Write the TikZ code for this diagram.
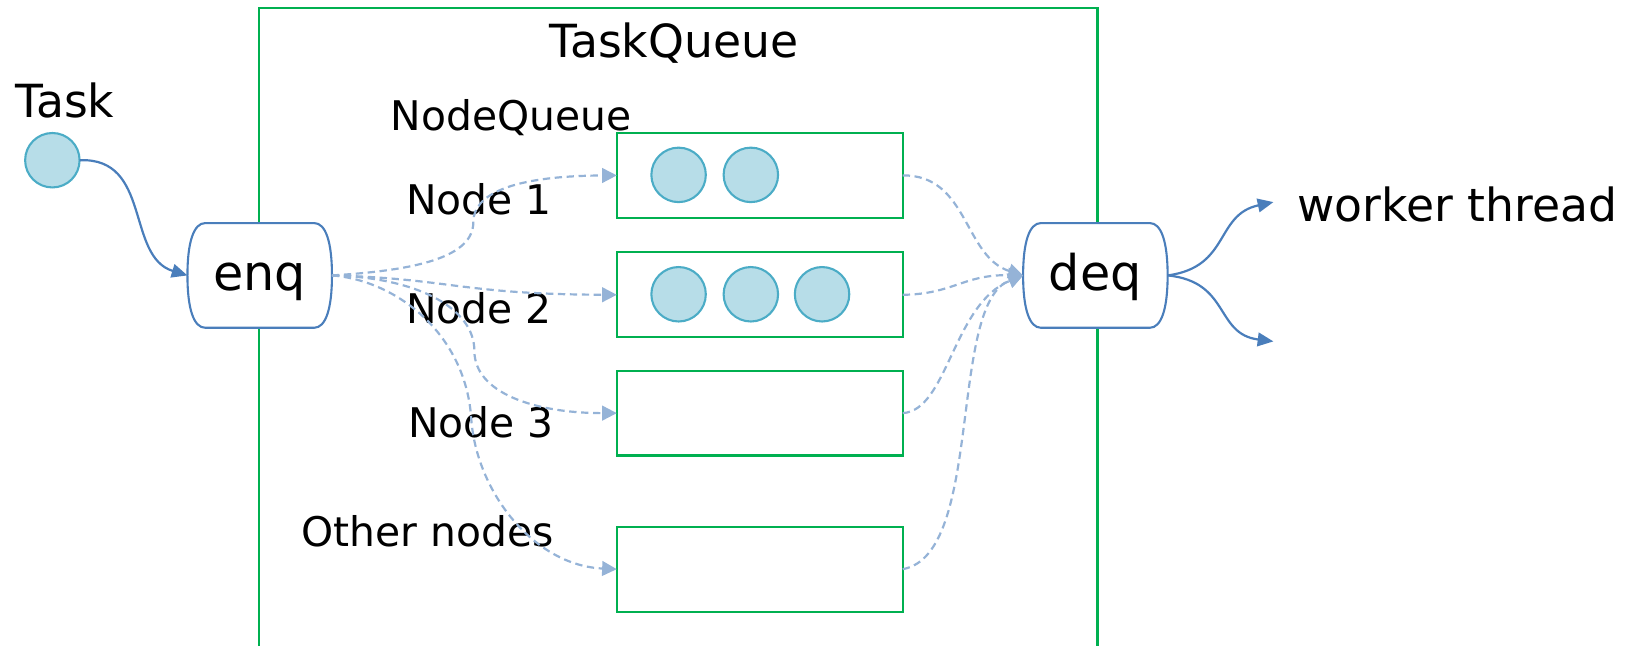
\documentclass[tikz,border=0pt]{standalone}
\usepackage{fontspec}
\setmainfont{DejaVu Sans}
\usetikzlibrary{arrows.meta}
\definecolor{qgreen}{HTML}{00B050}
\definecolor{qblue}{HTML}{4A7EBB}
\definecolor{qdash}{HTML}{95B3D7}
\definecolor{ballfill}{HTML}{B7DDE8}
\definecolor{ballline}{HTML}{4BACC6}
\newcommand{\setfs}[1]{\fontsize{#1}{#1}\selectfont}
\newcommand{\capsulepath}{%
  \path[capline] (-52,-50) -- (52,-50) .. controls (63,-50) and (69,-32) .. (69,0)
    .. controls (69,32) and (63,50) .. (52,50) -- (-52,50)
    .. controls (-63,50) and (-69,32) .. (-69,0)
    .. controls (-69,-32) and (-63,-50) .. cycle;}
\begin{document}
\begin{tikzpicture}[x=0.5pt,y=-0.5pt,
  frame/.style={draw=qgreen,line width=1pt,inner sep=0,outer sep=0,minimum width=400.5pt,minimum height=326pt},
  qbox/.style={draw=qgreen,line width=1pt,minimum width=136.5pt,minimum height=40.5pt,inner sep=0,outer sep=0},
  ball/.style={circle,draw=ballline,fill=ballfill,line width=1pt,minimum size=26pt,inner sep=0,outer sep=0},
  capsule/.style={inner sep=0,outer sep=0,minimum width=69pt,minimum height=50pt,font=\setfs{23.5},text height=14.2pt,text depth=0pt},
  capline/.style={draw=qblue,fill=white,line width=1pt},
  lbl/.style={anchor=base west,inner sep=0,outer sep=0,font=\setfs{21.8}},
  nlbl/.style={anchor=base west,inner sep=0,outer sep=0,font=\setfs{19.5}},
  flowline/.style={qdash,line width=1.05pt,dash pattern=on 3.5pt off 2.2pt,-{Triangle[length=7pt,width=7pt]}},
  bluearrow/.style={qblue,line width=1.05pt,-{Triangle[length=7.5pt,width=6.5pt]}}]
\useasboundingbox (0,0) rectangle (1568,616);
% outer TaskQueue frame
\node[frame] (tq) at (647.5,334) {};
\node[lbl] (tqlbl) at (525,55) {TaskQueue};
% enq / deq capsules
\begin{scope}[shift={(248,263)}]\capsulepath\end{scope}
\begin{scope}[shift={(1046,263)}]\capsulepath\end{scope}
\node[capsule] (enq) at (248,263) {enq};
\node[capsule] (deq) at (1046,263) {deq};
% task
\node[lbl] (tasklbl) at (15,112) {Task};
\node[ball] (task) at (50,153) {};
% labels
\node[nlbl] (nqlbl) at (373,125) {NodeQueue};
\node[nlbl] (n1lbl) at (388,205) {Node 1};
\node[nlbl] (n2lbl) at (388,309) {Node 2};
\node[nlbl] (n3lbl) at (390,418) {Node 3};
\node[nlbl] (n4lbl) at (288,522) {Other nodes};
\node[lbl] (wtlbl) at (1239,211.5) {worker thread};
% node queues
\node[qbox] (b1) at (725.5,167.5) {};
\node[qbox] (b2) at (725.5,281.5) {};
\node[qbox] (b3) at (725.5,394.5) {};
\node[qbox] (b4) at (725.5,543.5) {};
\node[ball] (c11) at (648,167) {};
\node[ball] (c12) at (717,167) {};
\node[ball] (c21) at (648,281) {};
\node[ball] (c22) at (717,281) {};
\node[ball] (c23) at (785,281) {};
% waypoints
\coordinate (w1) at (452,212);
\coordinate (w3) at (453,335);
\coordinate (w4) at (450,400);
\coordinate (up) at (1216,193);
\coordinate (dn) at (1216,326);
% task -> enq
\draw[bluearrow] (task.east) .. controls (145,150) and (120,245) .. (enq.west);
% enq -> queues
\draw[flowline] (enq.east) .. controls (400,258) and (452,245) .. (w1)
  .. controls (452,185) and (490,168) .. (b1.west);
\draw[flowline] (enq.east) .. controls (430,266) and (440,281) .. (b2.west);
\draw[flowline] (enq.east) .. controls (400,265) and (453,295) .. (w3)
  .. controls (453,375) and (510,394.5) .. (b3.west);
\draw[flowline] (enq.east) .. controls (380,268) and (445,320) .. (w4)
  .. controls (455,470) and (510,540) .. (b4.west);
% queues -> deq
\draw[flowline] (b1.east) .. controls (925,167) and (920,245) .. (deq.west);
\draw[flowline] (b2.east) .. controls (910,281) and (920,262) .. (deq.west);
\draw[flowline] (b3.east) .. controls (905,392) and (910,290) .. (deq.west);
\draw[flowline] (b4.east) .. controls (940,530) and (905,290) .. (deq.west);
% deq -> worker threads
\draw[bluearrow] (deq.east) .. controls (1175,255) and (1160,205) .. (up);
\draw[bluearrow] (deq.east) .. controls (1175,269) and (1160,319) .. (dn);
\end{tikzpicture}
\end{document}
